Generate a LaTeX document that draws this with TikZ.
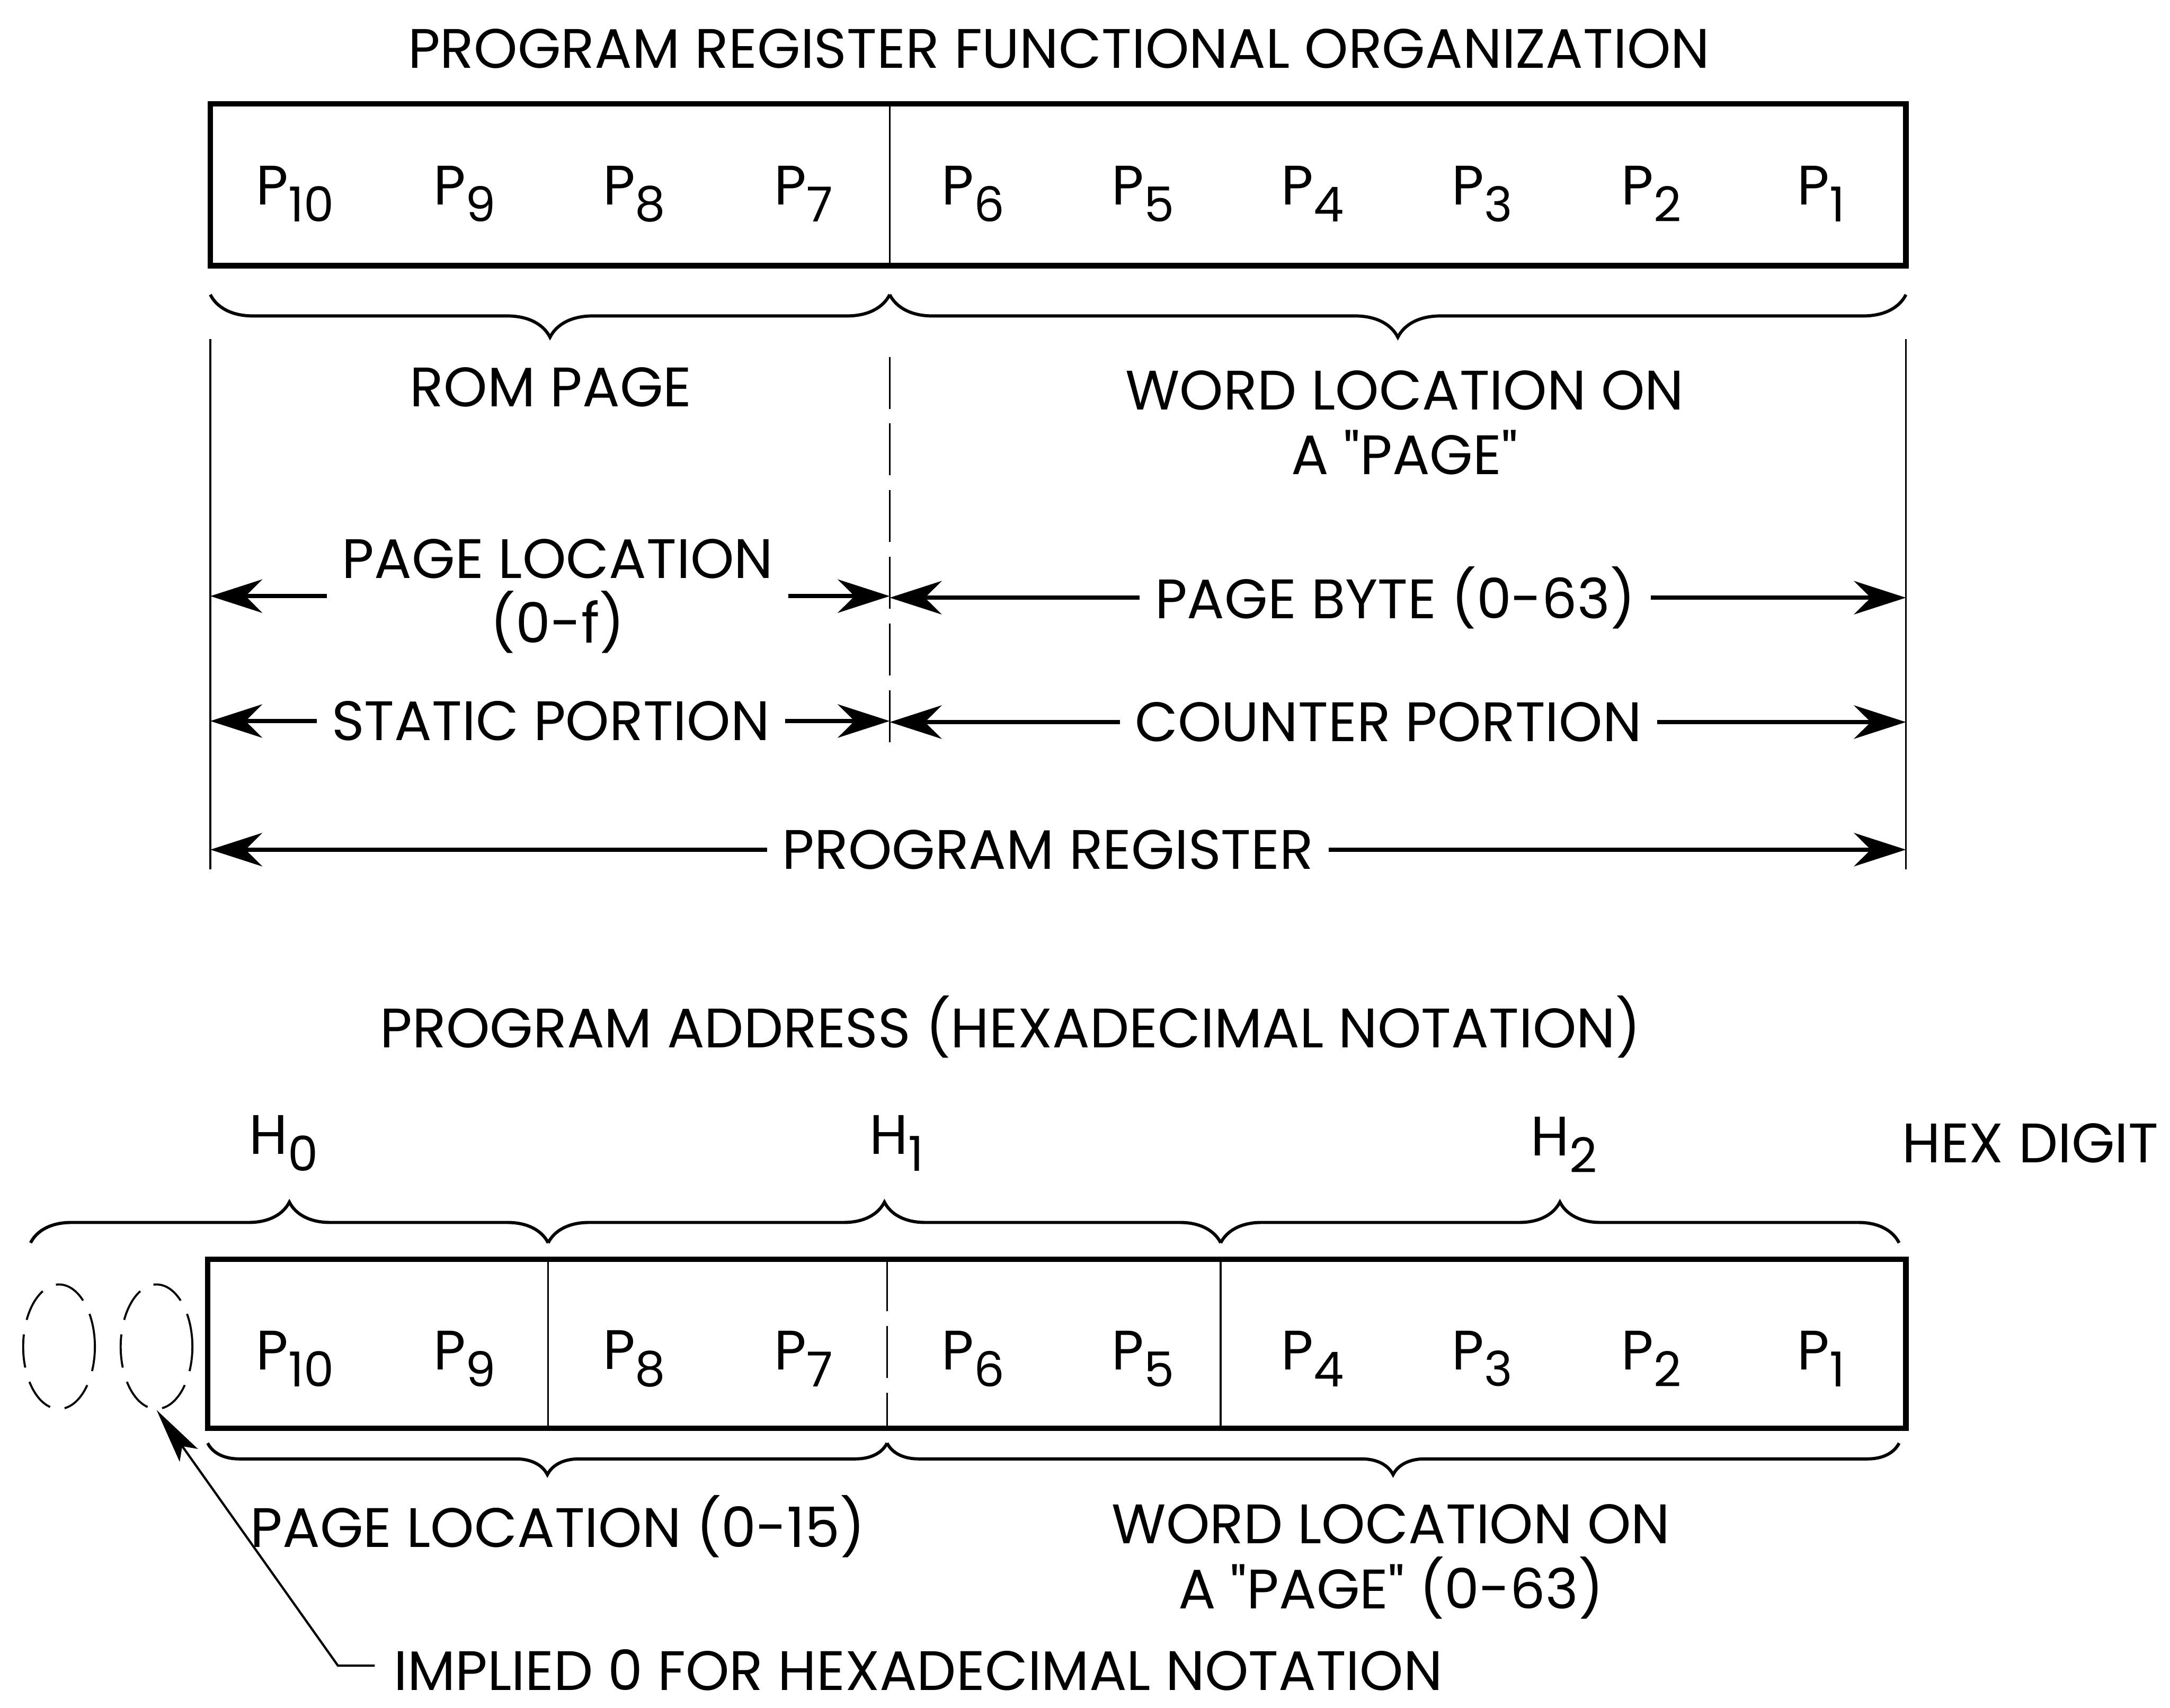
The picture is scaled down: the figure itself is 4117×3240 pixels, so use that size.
\documentclass[tikz,border=0pt]{standalone}
\usepackage{fontspec}
\setmainfont{Poppins}[Ligatures=TeXOff]
\usetikzlibrary{arrows.meta,shapes.geometric,positioning,calc,decorations.pathreplacing}

\newcommand{\regsub}[2]{#1\raisebox{-9pt}{\fontsize{26}{26}\selectfont #2}}

\begin{document}
\begin{tikzpicture}[
				x=0.01cm,y=-0.01cm,
				lbl/.style={font=\fontsize{30}{35}\selectfont,inner sep=0pt,align=center},
				dimtext/.style={lbl,inner xsep=8pt},
				regbox/.style={line width=3pt},
				cellline/.style={line width=1pt},
				midline/.style={line width=1pt,dash pattern=on 28pt off 8pt},
				dimarrow/.style={-{Stealth[length=28pt,width=18pt,inset=9pt]},line width=2.4pt},
				graffagiu/.style={decorate,decoration={brace,mirror,amplitude=#1},line width=1.7pt},
				graffasu/.style={decorate,decoration={brace,amplitude=#1},line width=1.7pt},
				zero/.style={draw,ellipse,line width=1.1pt,dash pattern=on 18pt off 8pt,minimum width=1.36cm,minimum height=2.36cm,inner sep=0pt}
				]
				\useasboundingbox (0,0) rectangle (4117,3240);
				
				% Registro
				\node[lbl] (titolo1) at (2009,92) {PROGRAM REGISTER FUNCTIONAL ORGANIZATION};
				\draw[regbox] (399,197) rectangle (3616,504);
				\draw[cellline] (1688,197) -- (1688,504);
				\foreach \i in {1,...,10}
					\node[lbl] (p\i) at ({3616-321.7*(\i-0.5)},368) {\regsub{P}{\i}};
				
				\draw[graffagiu=23pt] (399,559) -- (1688,559);
				\draw[graffagiu=23pt] (1688,559) -- (3616,559);
				
				\coordinate (sx) at (399,643);
				\coordinate (sxb) at (399,1649);
				\coordinate (dx) at (3616,643);
				\coordinate (dxb) at (3616,1649);
				\coordinate (mid) at (1688,677);
				\coordinate (midb) at (1688,1418);
				\draw[cellline] (sx) -- (sxb);
				\draw[cellline] (dx) -- (dxb);
				\draw[midline] (mid) -- (midb);
				
				\node[lbl] (rom) at (1045,735) {ROM PAGE};
				\node[lbl] (word) at (2665,802) {WORD LOCATION ON\\A "PAGE"};
				\node[dimtext] (pgloc) at (1058,1131) {PAGE LOCATION\\(0-f)};
				\node[dimtext] (pgbyte) at (2647,1134) {PAGE BYTE (0-63)};
				\node[dimtext] (static) at (1045,1368) {STATIC PORTION};
				\node[dimtext] (counter) at (2634,1370) {COUNTER PORTION};
				\node[dimtext] (progreg) at (1988,1612) {PROGRAM REGISTER};
				
				% Frecce
				\draw[dimarrow] (pgloc.west) -- (pgloc.west -| sx);
				\draw[dimarrow] (pgloc.east) -- (pgloc.east -| mid);
				\draw[dimarrow] (pgbyte.west) -- (pgbyte.west -| mid);
				\draw[dimarrow] (pgbyte.east) -- (pgbyte.east -| dx);
				\draw[dimarrow] (static.west) -- (static.west -| sx);
				\draw[dimarrow] (static.east) -- (static.east -| mid);
				\draw[dimarrow] (counter.west) -- (counter.west -| mid);
				\draw[dimarrow] (counter.east) -- (counter.east -| dx);
				\draw[dimarrow] (progreg.west) -- (progreg.west -| sx);
				\draw[dimarrow] (progreg.east) -- (progreg.east -| dx);
				
				% Indirizzo
				\node[lbl] (titolo2) at (1917,1948) {PROGRAM ADDRESS (HEXADECIMAL NOTATION)};
				\node[lbl] (h0) at (538,2169) {\regsub{H}{0}};
				\node[lbl] (h1) at (1701,2169) {\regsub{H}{1}};
				\node[lbl] (h2) at (2967,2172) {\regsub{H}{2}};
				\node[lbl] (hex) at (3852,2169) {HEX DIGIT};
				
				\draw[graffasu=22pt] (58,2358) -- (1040,2358);
				\draw[graffasu=22pt] (1040,2358) -- (2316,2358);
				\draw[graffasu=22pt] (2316,2358) -- (3603,2358);
				
				\draw[regbox] (394,2389) rectangle (3616,2710);
				\draw[cellline] (1040,2389) -- (1040,2710);
				\draw[midline] (1683,2389) -- (1683,2710);
				\draw[cellline] (2316,2389) -- (2316,2710);
				\foreach \i in {1,...,10}
					\node[lbl] (q\i) at ({3616-321.7*(\i-0.5)},2578) {\regsub{P}{\i}};
				
				\node[zero] (zero1) at (112,2555) {};
				\node[zero] (zero2) at (297,2555) {};
				
				\draw[graffagiu=17pt] (394,2738) -- (1683,2738);
				\draw[graffagiu=17pt] (1683,2738) -- (3603,2738);
				
				\node[lbl] (pgloc2) at (1058,2896) {PAGE LOCATION (0-15)};
				\node[lbl] (word2) at (2639,2963) {WORD LOCATION ON\\A "PAGE" (0-63)};
				\node[lbl,inner xsep=10pt] (implied) at (1742,3168) {IMPLIED 0 FOR HEXADECIMAL NOTATION};
				
				\coordinate (gomito) at (641,3160);
				\draw[line width=1.2pt,-{Stealth[length=30pt,width=12pt,inset=6pt]}] (gomito -| implied.west) -- (gomito) -- (zero2.south);
				
			\end{tikzpicture}
\end{document}
